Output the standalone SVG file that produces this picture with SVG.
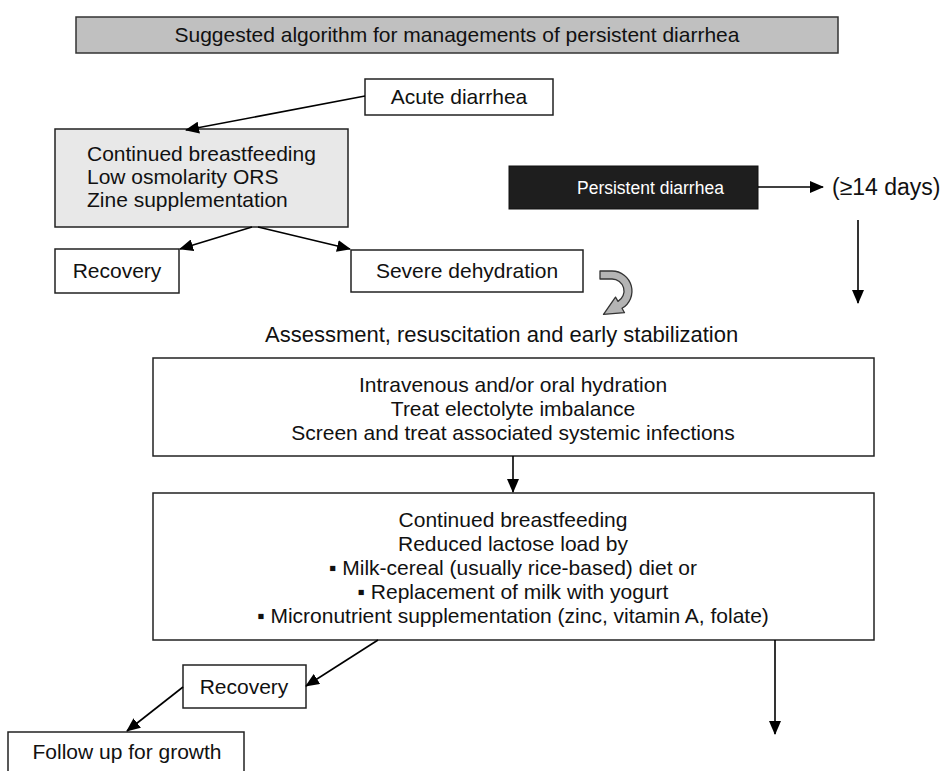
<svg xmlns="http://www.w3.org/2000/svg" width="947" height="771" viewBox="0 0 947 771">
<defs>
<marker id="ah" markerUnits="userSpaceOnUse" markerWidth="14" markerHeight="12" viewBox="0 0 14 12" refX="13" refY="6" orient="auto">
<path d="M0,0 L14,6 L0,12 Z" fill="#000"/>
</marker>
<style>
text{font-family:"Liberation Sans",Arial,Helvetica,sans-serif;font-size:21px;fill:#111}
.box{fill:#fff;stroke:#222;stroke-width:1.5}
.c{text-anchor:middle}
.ln{stroke:#000;stroke-width:1.6;fill:none;marker-end:url(#ah)}
</style>
</defs>
<rect width="947" height="771" fill="#fff"/>
<g id="title">
<rect x="76" y="17" width="762" height="36" fill="#c0c0c0" stroke="#333" stroke-width="1.5"/>
<text x="457" y="42" class="c">Suggested algorithm for managements of persistent diarrhea</text>
</g>
<g id="acute">
<rect class="box" x="365" y="79" width="188" height="36"/>
<text x="459" y="104" class="c">Acute diarrhea</text>
</g>
<g id="initial">
<rect x="55" y="129" width="293" height="98" fill="#e8e8e8" stroke="#222" stroke-width="1.5"/>
<text x="87" y="161">Continued breastfeeding</text>
<text x="87" y="184">Low osmolarity ORS</text>
<text x="87" y="207">Zine supplementation</text>
</g>
<g id="recovery1">
<rect class="box" x="55" y="249" width="124" height="44"/>
<text x="117" y="278" class="c">Recovery</text>
</g>
<g id="severe">
<rect class="box" x="351" y="250" width="232" height="42"/>
<text x="467" y="278" class="c">Severe dehydration</text>
</g>
<g id="persistent">
<rect x="509" y="166" width="249" height="43" fill="#1e1e1e" stroke="#111" stroke-width="1"/>
<text x="577" y="194" style="fill:#fff;font-size:17.5px">Persistent diarrhea</text>
</g>
<g id="days">
<text x="832" y="195" style="font-size:23px">(≥14 days)</text>
</g>
<g id="curved-arrow">
<path d="M600,271 L612,271 A20,20 0 0 1 622,308.3 L624.5,312.7 L603.5,314.4 L615.5,297.1 L618,301.4 A12,12 0 0 0 612,279 L600,279 Z" fill="#b4b4b4" stroke="#333" stroke-width="1.3" stroke-linejoin="round"/>
</g>
<g id="assessment">
<text x="265" y="342" style="font-size:22px">Assessment, resuscitation and early stabilization</text>
</g>
<g id="stabilize">
<rect class="box" x="153" y="358" width="721" height="98"/>
<text x="513" y="392" class="c">Intravenous and/or oral hydration</text>
<text x="513" y="416" class="c">Treat electolyte imbalance</text>
<text x="513" y="440" class="c">Screen and treat associated systemic infections</text>
</g>
<g id="diet">
<rect class="box" x="153" y="493" width="721" height="147"/>
<text x="513" y="527" class="c">Continued breastfeeding</text>
<text x="513" y="551" class="c">Reduced lactose load by</text>
<text x="513" y="575" class="c">▪ Milk-cereal (usually rice-based) diet or</text>
<text x="513" y="599" class="c">▪ Replacement of milk with yogurt</text>
<text x="513" y="623" class="c">▪  Micronutrient supplementation (zinc, vitamin A, folate)</text>
</g>
<g id="recovery2">
<rect class="box" x="183" y="665" width="123" height="43"/>
<text x="244" y="694" class="c">Recovery</text>
</g>
<g id="followup">
<rect class="box" x="8" y="732" width="236" height="60"/>
<text x="127" y="759" class="c">Follow up for growth</text>
</g>
<g id="connectors">
<line class="ln" x1="365" y1="96" x2="186" y2="130"/>
<line class="ln" x1="252" y1="227" x2="180" y2="249"/>
<line class="ln" x1="258" y1="227" x2="350" y2="249"/>
<line class="ln" x1="758" y1="187" x2="823" y2="187"/>
<line class="ln" x1="858" y1="220" x2="858" y2="303"/>
<line class="ln" x1="513" y1="456" x2="513" y2="492"/>
<line class="ln" x1="378" y1="640" x2="306" y2="686"/>
<line class="ln" x1="183" y1="687" x2="127" y2="731"/>
<line class="ln" x1="775" y1="640" x2="775" y2="734"/>
</g>
</svg>
